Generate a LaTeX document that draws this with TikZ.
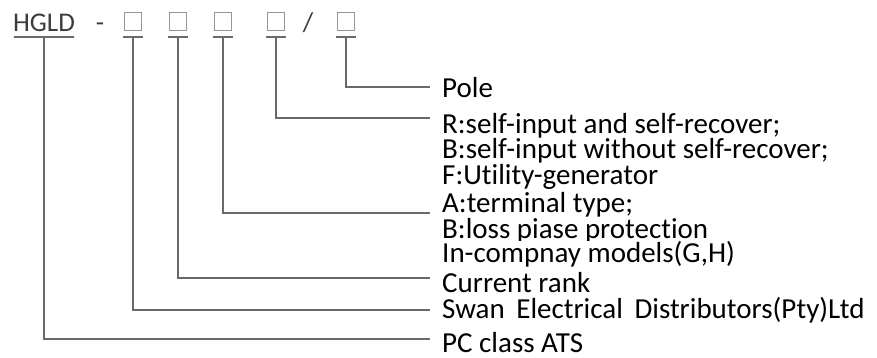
\documentclass[tikz,border=0pt]{standalone}
\usepackage{fontspec}
\setmainfont[Ligatures={NoCommon}]{Carlito}
\definecolor{linegray}{RGB}{105,105,105}
\definecolor{slotgray}{RGB}{150,150,150}
\definecolor{codegray}{RGB}{60,60,60}

\begin{document}
\begin{tikzpicture}[
    x=1pt, y=-1pt,
    code/.style={
        text=codegray,
        inner sep=0pt,
        anchor=base,
        font=\fontsize{27}{30}\selectfont
    },
    slot/.style={
        draw=slotgray,
        line width=1pt,
        minimum width=17pt,
        minimum height=18pt,
        inner sep=0pt
    },
    rule/.style={
        draw=linegray,
        line width=1.2pt
    },
    lbl/.style={
        anchor=base west,
        inner sep=0pt,
        font=\fontsize{29}{30}\selectfont
    }
]
\useasboundingbox (0,0) rectangle (877,358);

% model code
\node[code] (hgld) at (44,32) {HGLD};
\node[code] (dash) at (100,32) {-};
\node[slot] (s1) at (133,22) {};
\node[slot] (s2) at (178,22) {};
\node[slot] (s3) at (223,22) {};
\node[slot] (s4) at (276,22) {};
\node[code] (slash) at (308,32) {/};
\node[slot] (s5) at (346,22) {};

% underlines
\coordinate (u0) at (hgld.south |- 0,37);
\coordinate (u1) at (s1.south |- 0,37);
\coordinate (u2) at (s2.south |- 0,37);
\coordinate (u3) at (s3.south |- 0,37);
\coordinate (u4) at (s4.south |- 0,37);
\coordinate (u5) at (s5.south |- 0,37);
\draw[rule] ([xshift=-30]u0) -- ([xshift=30]u0);
\foreach \i in {1,...,5}
    \draw[rule] ([xshift=-10]u\i) -- ([xshift=10]u\i);

% labels
\node[lbl] (pole) at (442,98) {Pole};
\node[lbl] (rin) at (442,134) {R:self-input and self-recover;};
\node[lbl] (bin) at (442,159) {B:self-input without self-recover;};
\node[lbl] (fug) at (442,184) {F:Utility-generator};
\node[lbl] (aterm) at (442,212) {A:terminal type;};
\node[lbl] (bloss) at (442,238) {B:loss piase protection};
\node[lbl, fill=white] (incomp) at (442,262) {In-compnay models(G,H)};
\node[lbl] (rank) at (442,292) {Current rank};
\node[lbl] (swan) at (442,318) {Swan\hspace{0.4em}Electrical\hspace{0.4em}Distributors(Pty)Ltd};
\node[lbl] (pcats) at (442,352) {PC class ATS};

% line ends
\coordinate (e5) at (430,87);
\coordinate (e4) at (430,118);
\coordinate (e3) at (430,213);
\coordinate (e2) at (430,278);
\coordinate (e1) at (430,310);
\coordinate (e0) at (430,339);

\draw[rule] (u5) |- (e5);
\draw[rule] (u4) |- (e4);
\draw[rule] (u3) |- (e3);
\draw[rule] (u2) |- (e2);
\draw[rule] (u1) |- (e1);
\draw[rule] (u0) |- (e0);

\end{tikzpicture}
\end{document}
